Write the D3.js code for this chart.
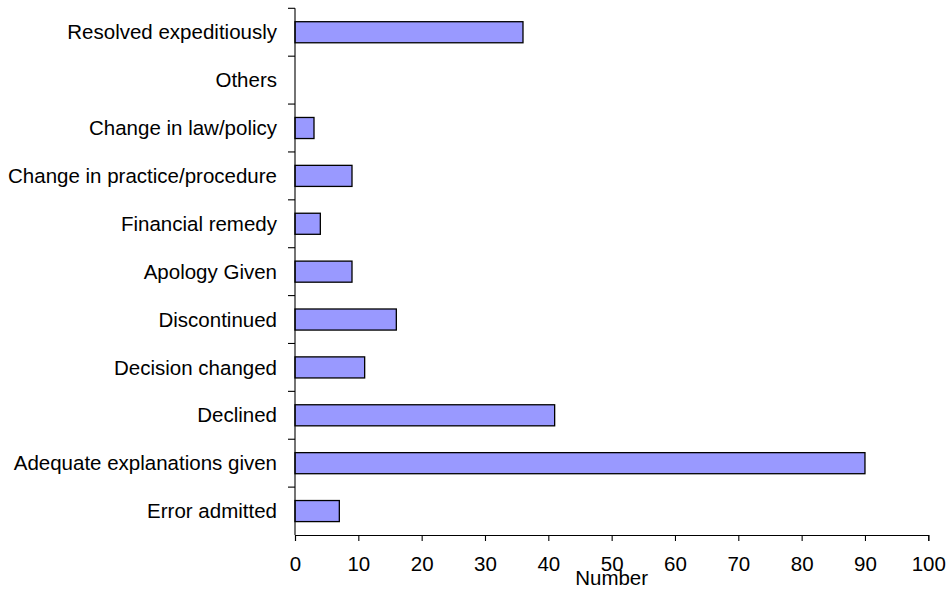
<!DOCTYPE html>
<html>
<head>
<meta charset="utf-8">
<script src="https://cdn.jsdelivr.net/npm/d3@7"></script>
<style>
  html, body { margin: 0; padding: 0; background: #fff; }
  svg { display: block; }
  text { font-family: "Liberation Sans", Arial, sans-serif; fill: #000; }
</style>
</head>
<body>
<svg id="chart" width="946" height="589"></svg>
<script>
// Categories from top to bottom
const categories = [
  "Resolved expeditiously",
  "Others",
  "Change in law/policy",
  "Change in practice/procedure",
  "Financial remedy",
  "Apology Given",
  "Discontinued",
  "Decision changed",
  "Declined",
  "Adequate explanations given",
  "Error admitted"
];
const values = [36, 0, 3, 9, 4, 9, 16, 11, 41, 90, 7];
const xTicks = [0, 10, 20, 30, 40, 50, 60, 70, 80, 90, 100];
const xTitle = "Number";

(function () {
const svg = d3.select("#chart");
const pLeft = 295, pRight = 928.3, pTop = 8.3, pBottom = 535;
const fs = "20.5px";

const x = d3.scaleLinear().domain([0, 100]).range([pLeft, pRight]);
const y = d3.scaleBand().domain(categories).range([pTop, pBottom])
  .paddingInner(0.56).paddingOuter(0.28);
const step = y.step();

// Bars
svg.append("g").selectAll("rect")
  .data(categories.map((c, i) => ({ c, v: values[i] })))
  .join("rect")
  .attr("x", x(0))
  .attr("y", d => y(d.c))
  .attr("width", d => x(d.v) - x(0))
  .attr("height", y.bandwidth())
  .attr("fill", "#9999ff")
  .attr("stroke", d => d.v > 0 ? "#000" : "none")
  .attr("stroke-width", 1.3);

// Y axis
const yAxisG = svg.append("g");
yAxisG.append("line")
  .attr("x1", pLeft).attr("x2", pLeft)
  .attr("y1", pTop).attr("y2", pBottom)
  .attr("stroke", "#000").attr("stroke-width", 1.1);
const yTickPos = d3.range(categories.length).map(i => pTop + i * step);
yAxisG.selectAll("line.tick").data(yTickPos).join("line")
  .attr("class", "tick")
  .attr("x1", pLeft - 7).attr("x2", pLeft)
  .attr("y1", d => d).attr("y2", d => d)
  .attr("stroke", "#000").attr("stroke-width", 1.1);
yAxisG.selectAll("text").data(categories).join("text")
  .attr("x", pLeft - 18)
  .attr("y", d => y(d) + y.bandwidth() / 2)
  .attr("dy", "0.35em")
  .attr("text-anchor", "end")
  .attr("font-size", fs)
  .text(d => d);

// X axis
const xAxis = d3.axisBottom(x).tickValues(xTicks).tickSize(6).tickPadding(15.5).tickFormat(d3.format("d"));
const xg = svg.append("g").attr("transform", `translate(0,${pBottom})`).call(xAxis);
xg.select(".domain").attr("stroke", "#000").attr("stroke-width", 1.1);
xg.selectAll(".tick line").attr("stroke", "#000").attr("stroke-width", 1.1);
xg.selectAll(".tick text")
  .attr("font-family", "Liberation Sans, Arial, sans-serif")
  .attr("font-size", fs)
  .attr("fill", "#000");

svg.append("text")
  .attr("x", x(50))
  .attr("y", 585)
  .attr("text-anchor", "middle")
  .attr("font-size", fs)
  .text(xTitle);
})();
</script>
</body>
</html>
